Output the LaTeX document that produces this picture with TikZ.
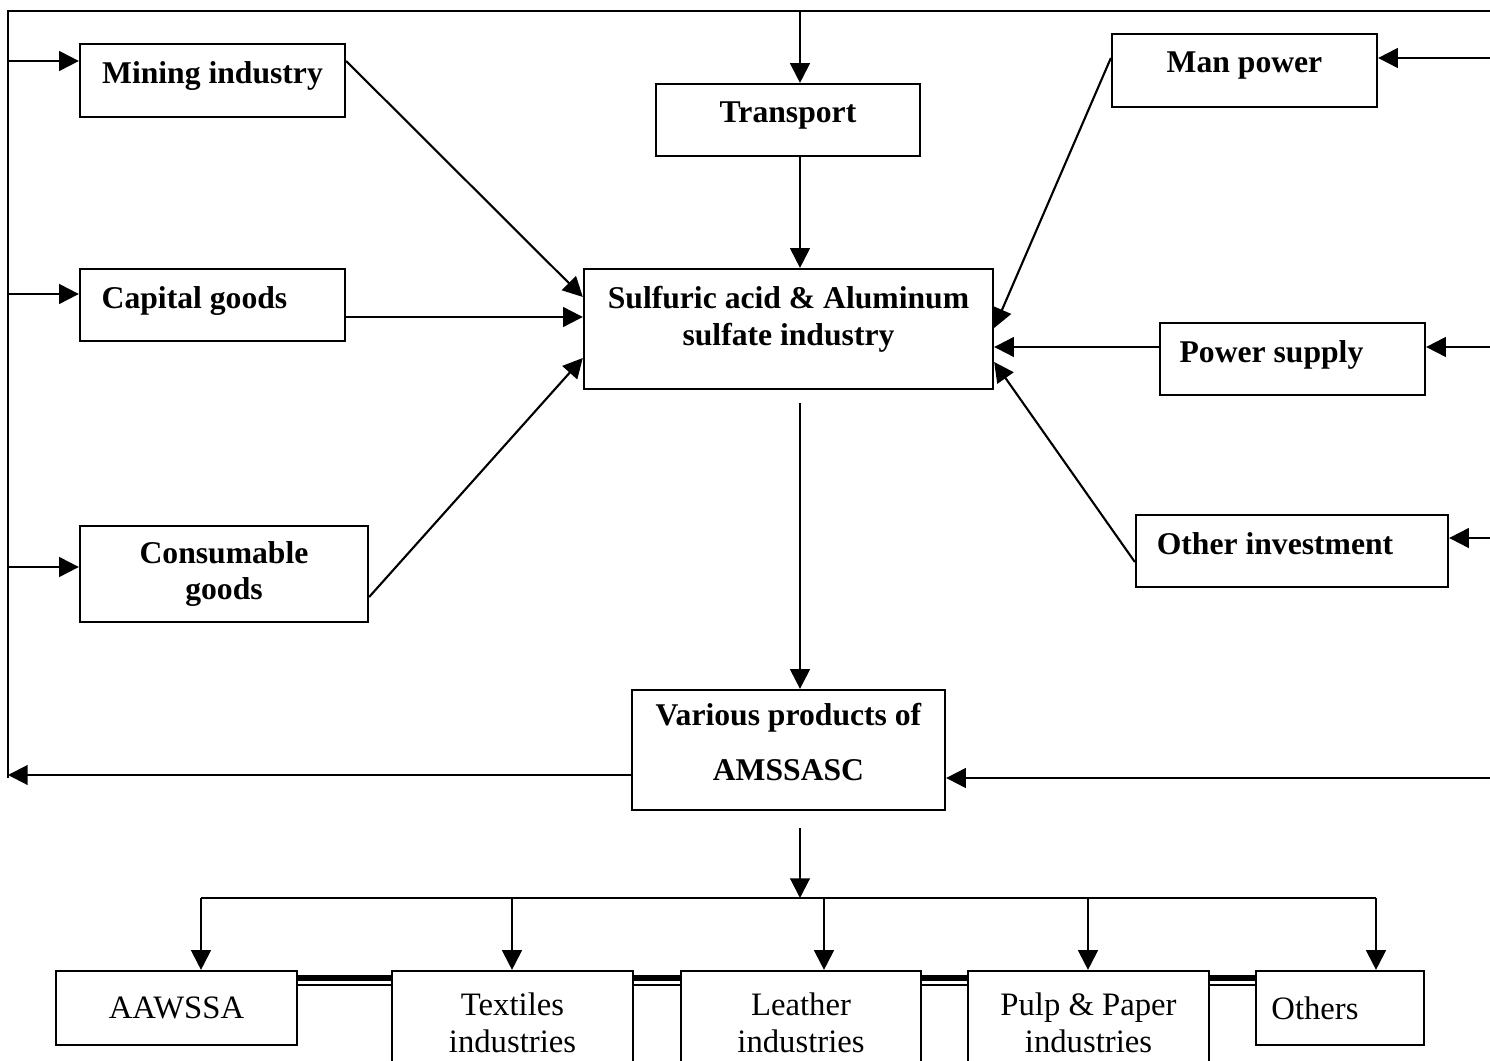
\documentclass[tikz,border=0pt]{standalone}
\usepackage{fontspec}
\setmainfont{Liberation Serif}
\usetikzlibrary{arrows.meta,calc}
\begin{document}
\begin{tikzpicture}[x=0.01cm, y=-0.01cm, line width=0.6pt,
  blk/.style={draw, rectangle, align=center, inner sep=0pt, text depth=4.5pt, font=\bfseries\fontsize{9}{10.5}\selectfont},
  sink/.style={draw, rectangle, align=center, inner sep=0pt, font=\fontsize{9.3}{10.5}\selectfont},
  arr/.style={-{Triangle[length=5.6pt,width=5.6pt]}}]
\useasboundingbox (0,0) rectangle (1490,1061);
\clip (0,0) rectangle (1490,1061);
\node[blk, minimum width=2.65cm, minimum height=0.73cm] (mining) at (212.5,80.5) {Mining industry};
\node[blk, minimum width=2.65cm, minimum height=0.72cm] (capital) at (212.5,305) {\mbox{Capital goods\hspace{0.36cm}}};
\node[blk, minimum width=2.88cm, minimum height=0.96cm, text depth=2pt, font=\bfseries\fontsize{9}{10.2}\selectfont] (consum) at (224,574) {Consumable\\goods};
\node[blk, minimum width=2.64cm, minimum height=0.72cm] (transport) at (788,120) {Transport};
\node[blk, minimum width=4.09cm, minimum height=1.2cm, text depth=7.7pt] (central) at (788.5,329) {Sulfuric acid \& Aluminum\\sulfate industry};
\node[blk, minimum width=2.65cm, minimum height=0.73cm] (manpow) at (1244.5,70.5) {Man power};
\node[blk, minimum width=2.65cm, minimum height=0.72cm] (power) at (1292.5,359) {\mbox{Power supply\hspace{0.42cm}}};
\node[blk, minimum width=3.12cm, minimum height=0.72cm] (otherinv) at (1292,551) {\mbox{Other investment\hspace{0.34cm}}};
\node[blk, minimum width=3.13cm, minimum height=1.2cm, font=\bfseries\fontsize{9}{15.6}\selectfont] (products) at (788.5,750) {Various products of\\AMSSASC};
\node[sink, minimum width=2.41cm, minimum height=0.74cm] (aawssa) at (176.5,1008) {AAWSSA};
\node[sink, minimum width=2.41cm, minimum height=1.04cm] (textiles) at (512.5,1023) {Textiles\\industries};
\node[sink, minimum width=2.40cm, minimum height=1.04cm] (leather) at (801,1023) {Leather\\industries};
\node[sink, minimum width=2.41cm, minimum height=1.04cm] (pulp) at (1088.5,1023) {Pulp \& Paper\\industries};
\node[sink, minimum width=1.68cm, minimum height=0.74cm] (others) at (1340,1008) {\mbox{Others\hspace{0.5cm}}};
\coordinate (ltop) at (8,11);
\coordinate (rtop) at (1490,11);
\coordinate (lbot) at (8,778);
\coordinate (spine) at (800,11);
\coordinate (inmin) at (8,61);
\coordinate (incap) at (8,294);
\coordinate (incon) at (8,567);
\coordinate (inman) at (1490,58);
\coordinate (inpow) at (1490,347);
\coordinate (inoth) at (1490,538);
\coordinate (inprod) at (1490,778);
\coordinate (outprod) at (8,775);
\coordinate (split) at (800,898);
\coordinate (hl) at (201,898);
\coordinate (hr) at (1376,898);
\coordinate (band) at (0,978);
\coordinate (thin) at (0,985);
\draw (lbot) -- (ltop) -- (rtop);
\draw[arr] (spine) -- (spine |- transport.north);
\draw[arr] (inmin) -- (inmin -| mining.west);
\draw[arr] (incap) -- (incap -| capital.west);
\draw[arr] (incon) -- (incon -| consum.west);
\draw[arr] (inman) -- (inman -| manpow.east);
\draw[arr] (inpow) -- (inpow -| power.east);
\draw[arr] (inoth) -- (inoth -| otherinv.east);
\draw[arr] (inprod) -- (inprod -| products.east);
\draw[arr] (mining.east |- inmin) -- ($(central.west)+(0,-32)$);
\draw[arr] ($(capital.east)+(0,12)$) -- ($(central.west)+(0,-12)$);
\draw[arr] ($(consum.east)+(0,23)$) -- ($(central.west)+(0,29)$);
\draw[arr] (manpow.west |- inman) -- ($(central.east)+(0,-1)$);
\draw[arr] (power.west |- inpow) -- (central.east |- inpow);
\draw[arr] ($(otherinv.west)+(0,11)$) -- ($(central.east)+(0,33)$);
\draw[arr] (transport.south -| spine) -- (central.north -| spine);
\draw[arr] ($(central.south -| spine)+(0,13)$) -- (products.north -| spine);
\draw[arr] (products.west |- outprod) -- (outprod);
\draw[arr] ($(products.south -| spine)+(0,17)$) -- (split);
\draw (hl) -- (hr);
\foreach \bx/\bn in {201/aawssa, 512/textiles, 824/leather, 1088/pulp, 1376/others}
  \draw[arr] (\bx,898) -- (\bx,898 |- \bn.north);
\foreach \ba/\bb in {aawssa/textiles, textiles/leather, leather/pulp, pulp/others} {
  \draw[line width=1.7pt] (\ba.east |- band) -- (\bb.west |- band);
  \draw (\ba.east |- thin) -- (\bb.west |- thin);
}
\end{tikzpicture}
\end{document}
